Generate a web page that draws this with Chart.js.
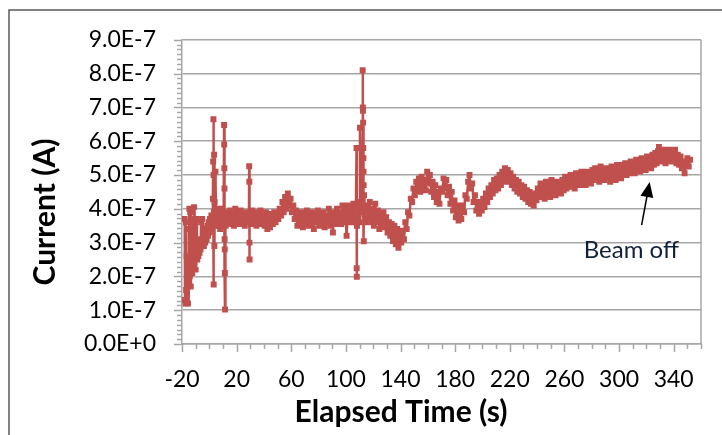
<!DOCTYPE html>
<html>
<head>
<meta charset="utf-8">
<title>Current vs Elapsed Time</title>
<script src="https://cdn.jsdelivr.net/npm/chart.js@4.4.1/dist/chart.umd.min.js"></script>
<style>
  html, body { margin: 0; padding: 0; background: #fff; }
</style>
</head>
<body>
<canvas id="currentChart" width="722" height="435"></canvas>
<script>
// Elapsed time (s)
const elapsedTime = [
  // start-up noise
  -18, -17.8, -17.5, -17.2, -17, -16.6, -16.3, -16, -15.6, -15.3,
  -15, -14.6, -14.3, -14, -13.6, -13.2, -12.8, -12.5, -12, -11.6,
  -11.2, -10.8, -10.4, -10, -9.6, -9.2, -8.8, -8.4, -8, -7.6,
  -7.2, -6.8, -6.4, -6, -5.6, -5.2, -4.8, -4.4, -4, -3.5,
  -3, -2.5, -2, -1.5, -1, -0.5, 0, 0.5, 1, 1.5, 2,
  // spike ~3 s
  2.6, 2.8, 3.0, 3.1, 3.2, 3.3, 3.5, 3.7, 3.9, 4.2, 4.5,
  5, 5.5, 6, 6.5, 7, 7.5, 8, 8.5, 9, 9.5, 10, 10.5,
  // spike ~11 s
  10.8, 10.9, 11, 11.1, 11.2, 11.3, 11.4, 11.5, 11.6,
  12, 13, 14, 15, 16, 17, 18, 19, 20, 21, 22, 23, 24, 25, 26, 27, 28, 29,
  // spike ~29 s
  29.2, 29.3, 29.4, 29.5, 29.6,
  30.5, 31.5, 32.5, 33.5, 34.5, 35.5, 36.5, 37.5, 38.5, 39.5,
  40.5, 41.5, 42.5, 43.5, 44.5, 45.5, 46.5, 47.5, 48.5, 49.5,
  50.5, 51.5, 52.5, 53.5, 54.5, 55.5, 56.5, 57.5, 58.5, 59.5, 60.5, 61.5, 62.5,
  63.5, 64.5, 65.5, 66.5, 67.5, 68.5, 69.5, 70.5, 71.5, 72.5,
  73.5, 74.5, 75.5, 76.5, 77.5, 78.5, 79.5, 80.5, 81.5, 82.5,
  83.5, 84.5, 85.5, 86.5, 87.5, 88.5, 89.5, 90.5, 91.5, 92.5,
  93.5, 94.5, 95.5, 96.5, 97.5, 98.5, 99.5, 100.5, 101.5, 102.5,
  103.5, 104.5, 105.5, 106.5, 107.3,
  // spikes ~108 and ~112 s
  107.8, 107.9, 108.0, 108.1, 108.3,
  108.8, 109.4, 110.0, 110.3, 110.6, 111.2, 111.8,
  112.3, 112.4, 112.5, 112.6, 112.7, 112.8, 112.9, 113.0, 113.1, 113.3, 113.6,
  114.5, 115.5, 116.5, 117.5, 118.5, 119.5, 120.5, 121.5, 122.5, 123.5, 124.5, 125.5, 126.5,
  // dip and recovery
  127.5, 128.5, 129.5, 130.5, 131.5, 132.5, 133.5, 134.5, 135.5, 136.5, 137.5, 138.5, 139.5, 140.5, 141.5,
  142.5, 143.5, 144.5, 145.5, 146.5, 147.5, 148.5, 149.5, 150.5, 151.5,
  152.5, 153.5, 154.5, 155.5, 156.5, 157.5, 158.5, 159.5, 160.5, 161.5, 162.5, 163.5,
  164.5, 165.5, 166.5, 167.5, 168.5, 169.5, 170.5, 171.5, 172.5,
  173.5, 174.5, 175.5, 176.5, 177.5, 178.5, 179.5, 180.5, 181.5, 182.5, 183.5, 184.5,
  185.5, 186.5, 187.5, 188.5, 189.5, 190.5, 191.5,
  192.5, 193.5, 194.5, 195.5, 196.5, 197.5, 198.5,
  199.5, 200.5, 201.5, 202.5, 203.5, 204.5, 205.5, 206.5, 207.5, 208.5,
  209.5, 210.5, 211.5, 212.5, 213.5, 214.5, 215.5, 216.5, 217.5, 218.5,
  219.5, 220.5, 221.5, 222.5, 223.5, 224.5, 225.5, 226.5, 227.5, 228.5,
  229.5, 230.5, 231.5, 232.5, 233.5, 234.5, 235.5, 236.5, 237.5, 238.5,
  239.5, 240.5, 241.5, 242.5, 243.5, 244.5, 245.5, 246.5, 247.5, 248.5,
  249.5, 250.5, 251.5, 252.5, 253.5, 254.5, 255.5, 256.5, 257.5, 258.5, 259.5,
  260.5, 261.5, 262.5, 263.5, 264.5, 265.5, 266.5, 267.5, 268.5, 269.5,
  270.5, 271.5, 272.5, 273.5, 274.5, 275.5, 276.5, 277.5, 278.5, 279.5,
  280.5, 281.5, 282.5, 283.5, 284.5, 285.5, 286.5, 287.5, 288.5, 289.5, 290.5, 291.5,
  292.5, 293.5, 294.5, 295.5, 296.5, 297.5, 298.5, 299.5, 300.5, 301.5, 302.5, 303.5,
  304.5, 305.5, 306.5, 307.5, 308.5, 309.5, 310.5, 311.5, 312.5, 313.5, 314.5, 315.5,
  316.5, 317.5, 318.5, 319.5, 320.5, 321.5, 322.5, 323.5, 324.5, 325.5, 326.5, 327.5, 328.5,
  329.2, 330, 331, 332, 333, 334, 335, 336, 337, 338, 339, 340,
  341, 342, 343, 344, 345, 346, 347, 348, 349, 350, 351, 352
];

// Current, in units of 1E-7 A, same order as elapsedTime
const current = [
  3.7, 1.3, 1.2, 3.6, 1.6, 2.6, 1.5, 1.9, 1.2, 3.4,
  1.8, 4.0, 2.0, 3.9, 1.7, 2.2, 3.0, 2.1, 3.7, 2.3,
  4.05, 2.4, 3.5, 2.2, 2.6, 3.7, 2.5, 2.8, 2.6, 3.0,
  2.7, 3.1, 2.8, 3.6, 2.9, 3.7, 3.0, 3.2, 2.9, 3.3,
  3.0, 3.4, 3.1, 3.5, 3.2, 3.6, 3.3, 3.7, 3.4, 3.8, 3.5,
  4.3, 5.4, 6.65, 5.0, 1.76, 3.9, 5.6, 2.9, 4.2, 3.6, 5.1,
  3.5, 3.9, 3.6, 4.0, 3.5, 3.8, 3.4, 3.9, 3.6, 4.0, 3.5, 3.8,
  6.48, 5.9, 5.2, 4.6, 3.1, 2.8, 2.1, 1.02, 3.7,
  3.5, 3.9, 3.6, 3.95, 3.55, 3.85, 3.5, 4.0, 3.6, 3.9, 3.55, 3.95, 3.6, 3.85, 3.5, 3.9, 3.6, 3.8,
  5.26, 4.8, 3.0, 2.5, 3.7,
  3.55, 3.95, 3.6, 3.9, 3.5, 3.85, 3.65, 3.95, 3.55, 3.8,
  3.5, 3.9, 3.4, 3.85, 3.45, 3.8, 3.55, 3.9, 3.6, 3.85,
  3.7, 4.0, 3.8, 4.2, 3.9, 4.35, 4.0, 4.45, 4.1, 4.3, 3.9, 4.1, 3.7,
  3.95, 3.5, 3.85, 3.55, 3.9, 3.45, 3.8, 3.6, 3.95, 3.5,
  3.85, 3.55, 3.9, 3.4, 3.8, 3.6, 3.95, 3.5, 3.85, 3.55,
  3.9, 3.45, 3.8, 3.6, 4.0, 3.5, 3.85, 3.3, 3.9, 3.55,
  4.0, 3.6, 3.9, 3.55, 4.1, 3.6, 3.95, 3.2, 4.1, 3.6,
  4.0, 3.65, 4.15, 3.6, 3.9,
  5.8, 2.24, 1.99, 3.5, 4.0,
  3.7, 4.2, 3.6, 6.4, 5.8, 4.0, 3.9,
  8.1, 7.0, 6.9, 6.55, 5.8, 5.5, 5.1, 4.7, 3.04, 4.4, 3.8,
  3.6, 4.1, 3.7, 4.2, 3.6, 4.0, 3.5, 4.15, 3.6, 3.95, 3.4, 3.85, 3.5,
  3.9, 3.45, 3.75, 3.3, 3.6, 3.2, 3.55, 3.05, 3.5, 2.95, 3.4, 2.85, 3.3, 3.0, 3.35,
  3.1, 3.6, 3.4, 3.9, 3.8, 4.3, 4.2, 4.6, 4.4, 4.8,
  4.55, 4.9, 4.5, 4.95, 4.6, 4.85, 4.55, 5.1, 4.75, 5.0, 4.5, 4.8,
  4.35, 4.7, 4.2, 4.5, 4.15, 4.6, 4.5, 4.9, 4.6,
  4.85, 4.4, 4.65, 4.15, 4.5, 3.95, 4.25, 3.75, 4.1, 3.65, 3.95, 3.7,
  4.1, 3.9, 4.4, 4.3, 4.8, 5.0, 4.6,
  4.75, 4.2, 4.4, 3.95, 4.2, 3.85, 4.15,
  3.95, 4.3, 4.05, 4.45, 4.2, 4.6, 4.35, 4.7, 4.45, 4.85,
  4.55, 4.9, 4.6, 5.0, 4.7, 5.1, 4.8, 5.2, 4.85, 5.15,
  4.8, 5.05, 4.7, 4.95, 4.6, 4.85, 4.5, 4.8, 4.45, 4.7,
  4.35, 4.65, 4.3, 4.55, 4.2, 4.5, 4.15, 4.4, 4.1, 4.45,
  4.25, 4.6, 4.35, 4.75, 4.4, 4.65, 4.3, 4.8, 4.45, 4.7,
  4.35, 4.85, 4.5, 4.7, 4.4, 4.8, 4.5, 4.75, 4.45, 4.85, 4.55,
  4.95, 4.6, 4.9, 4.65, 5.0, 4.7, 4.95, 4.6, 5.05, 4.7,
  5.0, 4.7, 5.1, 4.75, 5.0, 4.7, 5.1, 4.8, 5.05, 4.75,
  5.15, 4.85, 5.2, 4.9, 5.1, 4.8, 5.25, 4.9, 5.15, 4.85, 5.2, 4.95,
  5.1, 4.8, 5.25, 4.9, 5.2, 4.85, 5.3, 4.95, 5.2, 4.9, 5.3, 5.0,
  5.35, 5.0, 5.3, 5.05, 5.4, 5.1, 5.35, 5.05, 5.45, 5.15, 5.4, 5.1,
  5.5, 5.2, 5.45, 5.15, 5.55, 5.25, 5.5, 5.2, 5.6, 5.3, 5.65, 5.35, 5.7,
  5.83, 5.4, 5.7, 5.45, 5.75, 5.35, 5.7, 5.5, 5.75, 5.4, 5.65, 5.5,
  5.75, 5.35, 5.6, 5.3, 5.55, 5.2, 5.4, 5.05, 5.3, 5.5, 5.25, 5.45
];

// axis ticks
const xTickValues = [-20, 20, 60, 100, 140, 180, 220, 260, 300, 340];
const yTickValues = [0, 1, 2, 3, 4, 5, 6, 7, 8, 9];
const yTickLabels = ['0.0E+0', '1.0E-7', '2.0E-7', '3.0E-7', '4.0E-7',
                     '5.0E-7', '6.0E-7', '7.0E-7', '8.0E-7', '9.0E-7'];

// "Beam off" note, in data units
const beamOffText = { label: 'Beam off', x: 309, y: 2.77 };
const beamOffArrow = { fromX: 316.5, fromY: 3.52, toX: 322.4, toY: 4.79 };

const seriesRed = '#C0504D';
const gridGray = '#A6A6A6';

Chart.defaults.font.family = 'Lato';
Chart.defaults.color = '#000';

const chartDecor = {
  id: 'chartDecor',
  beforeDraw(chart) {
    const ctx = chart.ctx;
    ctx.save();
    ctx.fillStyle = '#fff';
    ctx.fillRect(0, 0, chart.width, chart.height);
    ctx.strokeStyle = '#595959';
    ctx.lineWidth = 1.5;
    ctx.strokeRect(9, 10, chart.width + 20, chart.height + 20);
    ctx.restore();
  },
  beforeDatasetsDraw(chart) {
    const { ctx, chartArea: a, scales: { x, y } } = chart;
    ctx.save();
    ctx.strokeStyle = gridGray;
    ctx.lineWidth = 1.5;
    ctx.beginPath();
    ctx.moveTo(a.right, a.top);
    ctx.lineTo(a.right, a.bottom);
    // tick marks, minor ones shorter
    for (let v = x.min; v <= x.max; v += 10) {
      const px = Math.round(x.getPixelForValue(v)) + 0.5;
      const len = xTickValues.includes(v) ? 8 : 5;
      ctx.moveTo(px, a.bottom);
      ctx.lineTo(px, a.bottom + len);
    }
    for (let i = 0; i <= 63; i++) {
      const py = Math.round(y.getPixelForValue(i / 7)) + 0.5;
      const len = i % 7 === 0 ? 8 : 5;
      ctx.moveTo(a.left - len, py);
      ctx.lineTo(a.left, py);
    }
    ctx.stroke();

    // axis titles
    ctx.fillStyle = '#000';
    ctx.font = 'bold 30px Lato';
    ctx.textAlign = 'center';
    ctx.textBaseline = 'middle';
    ctx.fillText('Elapsed Time (s)', 401, 412);
    ctx.translate(45, 212);
    ctx.rotate(-Math.PI / 2);
    ctx.fillText('Current (A)', 0, 0);
    ctx.restore();
  },
  afterDatasetsDraw(chart) {
    const { ctx, scales: { x, y } } = chart;
    ctx.save();
    const x0 = x.getPixelForValue(beamOffArrow.fromX), y0 = y.getPixelForValue(beamOffArrow.fromY);
    const x1 = x.getPixelForValue(beamOffArrow.toX), y1 = y.getPixelForValue(beamOffArrow.toY);
    const ang = Math.atan2(y1 - y0, x1 - x0);
    ctx.strokeStyle = '#000';
    ctx.fillStyle = '#000';
    ctx.lineWidth = 1.5;
    ctx.beginPath();
    ctx.moveTo(x0, y0);
    ctx.lineTo(x1 - 12 * Math.cos(ang), y1 - 12 * Math.sin(ang));
    ctx.stroke();
    ctx.beginPath();
    ctx.moveTo(x1, y1);
    ctx.lineTo(x1 - 15 * Math.cos(ang) + 6.5 * Math.sin(ang), y1 - 15 * Math.sin(ang) - 6.5 * Math.cos(ang));
    ctx.lineTo(x1 - 15 * Math.cos(ang) - 6.5 * Math.sin(ang), y1 - 15 * Math.sin(ang) + 6.5 * Math.cos(ang));
    ctx.closePath();
    ctx.fill();

    ctx.fillStyle = '#10203a';
    ctx.font = '24px Lato';
    ctx.textAlign = 'center';
    ctx.textBaseline = 'middle';
    ctx.fillText(beamOffText.label, x.getPixelForValue(beamOffText.x), y.getPixelForValue(beamOffText.y));
    ctx.restore();
  }
};

const points = elapsedTime.map((t, i) => ({ x: t, y: current[i] }));

new Chart(document.getElementById('currentChart'), {
  type: 'scatter',
  data: {
    datasets: [{
      data: points,
      showLine: true,
      borderColor: seriesRed,
      backgroundColor: seriesRed,
      borderWidth: 2.5,
      borderJoinStyle: 'round',
      pointStyle: 'rect',
      pointRadius: 4.2,
      pointBorderWidth: 0,
      pointHoverRadius: 4.2
    }]
  },
  options: {
    responsive: false,
    animation: false,
    layout: { padding: { top: 32, right: 21, bottom: 0, left: 0 } },
    plugins: { legend: { display: false }, tooltip: { enabled: false } },
    scales: {
      x: {
        type: 'linear',
        min: -20,
        max: 360,
        afterBuildTicks: s => { s.ticks = xTickValues.map(v => ({ value: v })); },
        afterFit: s => { s.height = 91; },
        grid: { display: false, drawTicks: false },
        border: { display: true, color: gridGray, width: 1.5 },
        ticks: { padding: 22, maxRotation: 0, font: { size: 23 } }
      },
      y: {
        min: 0,
        max: 9,
        afterBuildTicks: s => { s.ticks = yTickValues.map(v => ({ value: v })); },
        afterFit: s => { s.width = 182; },
        grid: { color: gridGray, lineWidth: 1.5, drawTicks: false },
        border: { display: true, color: gridGray, width: 1.5 },
        ticks: {
          padding: 26,
          font: { size: 23 },
          callback: v => yTickLabels[yTickValues.indexOf(v)]
        }
      }
    }
  },
  plugins: [chartDecor]
});
</script>
</body>
</html>
